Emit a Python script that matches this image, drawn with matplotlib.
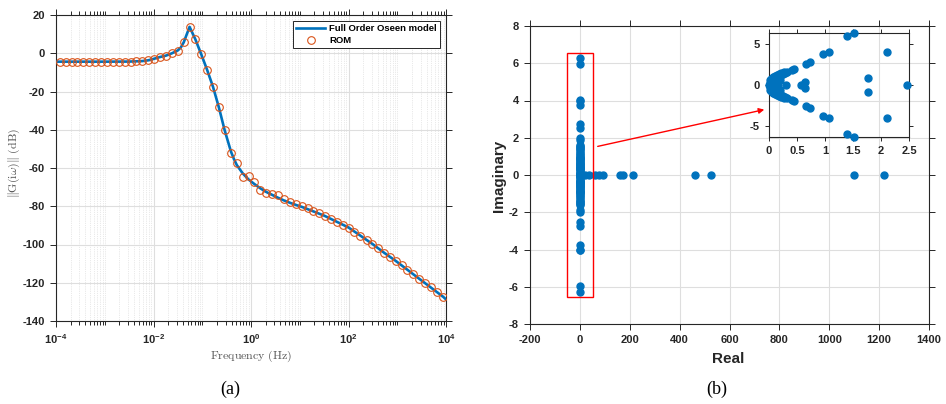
import numpy as np
import matplotlib
matplotlib.use("Agg")
import matplotlib.pyplot as plt
from matplotlib.patches import Rectangle, FancyArrowPatch
from matplotlib.ticker import FixedLocator, FixedFormatter, LogLocator, NullFormatter

# ---- (a) frequency response, log10(f) and dB
rom_exp = [-3.92, -3.80, -3.68, -3.56, -3.44, -3.32, -3.19, -3.07, -2.95, -2.83,
           -2.71, -2.59, -2.47, -2.35, -2.23, -2.11, -1.99, -1.87, -1.74, -1.62,
           -1.50, -1.38, -1.26, -1.14, -1.02, -0.90, -0.78, -0.66, -0.54, -0.41,
           -0.29, -0.17, -0.05, 0.07, 0.19, 0.31, 0.43, 0.55, 0.67, 0.79,
           0.92, 1.04, 1.16, 1.28, 1.40, 1.52, 1.64, 1.76, 1.88, 2.00,
           2.12, 2.24, 2.37, 2.49, 2.61, 2.73, 2.85, 2.97, 3.09, 3.21,
           3.33, 3.45, 3.57, 3.70, 3.82, 3.94]
rom_db = [-4.4, -4.4, -4.4, -4.4, -4.4, -4.4, -4.4, -4.4, -4.4, -4.4,
          -4.4, -4.4, -4.35, -4.25, -4.0, -3.7, -2.9, -2.0, -1.2, 0.0,
          1.3, 5.7, 13.8, 7.2, -0.6, -8.7, -17.5, -28.2, -40.3, -52.0,
          -57.2, -64.9, -64.2, -67.3, -71.5, -72.9, -73.6, -74.1, -76.0, -77.6,
          -79.0, -79.9, -80.9, -82.3, -83.7, -85.1, -86.6, -88.2, -89.6, -91.2,
          -93.3, -95.5, -97.6, -99.7, -102.0, -104.3, -106.4, -108.6, -110.9, -113.2,
          -115.6, -117.9, -120.1, -122.4, -125.0, -127.3]

full_exp = [-4.0, -3.0, -2.5, -2.23, -2.11, -1.99, -1.87, -1.74, -1.62, -1.50,
            -1.44, -1.38, -1.26, -1.14, -1.02, -0.90, -0.78, -0.66, -0.54, -0.41,
            -0.35, -0.29, -0.17, -0.05, 0.07, 0.19, 0.31, 0.43, 0.55, 0.67,
            0.79, 0.92, 1.04, 1.5, 2.0, 2.24, 2.49, 2.73, 2.97, 3.45, 3.94, 4.0]
full_db = [-4.4, -4.4, -4.35, -4.1, -3.7, -2.9, -2.0, -1.2, 0.0, 1.5,
           3.0, 5.7, 13.8, 7.2, -0.6, -8.7, -17.5, -28.2, -40.3, -51.5,
           -55.3, -58.5, -62.8, -66.0, -68.4, -70.6, -72.5, -74.0, -75.5, -76.9,
           -78.1, -79.3, -80.3, -84.9, -91.1, -95.3, -99.7, -104.3, -108.6, -117.9,
           -127.3, -128.7]

freq_ticks = [1e-4, 1e-2, 1e0, 1e2, 1e4]
freq_labels = [r'$\mathdefault{10^{-4}}$', r'$\mathdefault{10^{-2}}$', r'$\mathdefault{10^{0}}$',
               r'$\mathdefault{10^{2}}$', r'$\mathdefault{10^{4}}$']
db_ticks = [-140, -120, -100, -80, -60, -40, -20, 0, 20]

# ---- (b) eigenvalues (conjugate pairs written out)
eig_re = [1.52, 1.52, 1.39, 1.39, 2.10, 2.10, 1.07, 1.07, 0.96, 0.96,
          0.73, 0.73, 0.66, 0.66, 0.45, 0.45, 0.41, 0.41, 1.77, 1.77,
          0.65, 0.65, 0.32, 0.32, 0.28, 0.28, 0.25, 0.25, 0.22, 0.22,
          0.19, 0.19, 0.17, 0.17, 0.14, 0.14, 0.12, 0.12, 0.10, 0.10,
          0.08, 0.08, 0.06, 0.06, 0.05, 0.05, 0.03, 0.03, 0.02, 0.02,
          0.15, 0.15, 0.10, 0.10, 0.05, 0.05, 0.20, 0.20,
          0.01, 0.01, 0.01, 0.01, 0.03, 0.03, 0.06, 0.06, 0.08, 0.08,
          0.11, 0.11, 0.14, 0.14, 0.18, 0.18, 0.22, 0.22, 0.26, 0.26,
          0.04, 0.04, 0.12, 0.12, 0.18, 0.18,
          0.00, 0.04, 0.09, 0.16, 0.30, 0.57, 2.47,
          10, 22, 35, 62, 76, 92, 160, 172, 212, 462, 525, 1098, 1219]
eig_im = [6.30, -6.30, 5.95, -5.95, 4.00, -4.00, 4.02, -4.02, 3.76, -3.76,
          2.76, -2.76, 2.55, -2.55, 2.00, -2.00, 1.88, -1.88, 0.90, -0.90,
          0.40, -0.40, 1.58, -1.58, 1.45, -1.45, 1.32, -1.32, 1.18, -1.18,
          1.05, -1.05, 0.92, -0.92, 0.80, -0.80, 0.68, -0.68, 0.57, -0.57,
          0.46, -0.46, 0.36, -0.36, 0.27, -0.27, 0.18, -0.18, 0.09, -0.09,
          0.45, -0.45, 0.30, -0.30, 0.12, -0.12, 0.60, -0.60,
          0.30, -0.30, 0.55, -0.55, 0.75, -0.75, 0.62, -0.62, 0.92, -0.92,
          1.05, -1.05, 1.22, -1.22, 1.38, -1.38, 1.52, -1.52, 1.62, -1.62,
          0.45, -0.45, 0.85, -0.85, 0.95, -0.95,
          0.0, 0.0, 0.0, 0.0, 0.0, 0.0, 0.0,
          0, 0, 0, 0, 0, 0, 0, 0, 0, 0, 0, 0, 0]

real_ticks = [-200, 0, 200, 400, 600, 800, 1000, 1200, 1400]
imag_ticks = [-8, -6, -4, -2, 0, 2, 4, 6, 8]
inset_xticks = [0, 0.5, 1, 1.5, 2, 2.5]
inset_xlabels = ['0', '0.5', '1', '1.5', '2', '2.5']
inset_yticks = [-5, 0, 5]

blue = '#0072BD'
orange = '#D95319'
dark = '#262626'

plt.rcParams['font.family'] = ['Liberation Sans', 'DejaVu Sans']
plt.rcParams['font.weight'] = 'bold'
plt.rcParams['axes.unicode_minus'] = False

fig = plt.figure(figsize=(9.46, 4.04), dpi=100)


def style_axes(ax, lsize=8, tlen=4.5):
    for s in ax.spines.values():
        s.set_color(dark)
        s.set_linewidth(0.8)
    ax.tick_params(which='both', direction='out', top=True, right=True,
                   colors=dark, labelsize=lsize, width=0.7)
    ax.tick_params(which='major', length=tlen)
    ax.tick_params(which='minor', length=tlen * 0.65)


# ---------------- (a)
ax1 = fig.add_axes([56 / 946, 1 - 321 / 404, 390 / 946, 306 / 404])
ax1.set_xscale('log')
ax1.plot(10 ** np.array(full_exp), full_db, color=blue, lw=1.9,
         label='Full Order Oseen model', zorder=3)
ax1.plot(10 ** np.array(rom_exp), rom_db, 'o', mfc='none', mec=orange, ms=5.5,
         mew=0.8, label='ROM', zorder=4)
ax1.set_xlim(1e-4, 1e4)
ax1.set_ylim(-140, 20)
ax1.xaxis.set_major_locator(FixedLocator(freq_ticks))
ax1.xaxis.set_major_formatter(FixedFormatter(freq_labels))
ax1.xaxis.set_minor_locator(LogLocator(base=10, subs=np.arange(1, 10), numticks=100))
ax1.xaxis.set_minor_formatter(NullFormatter())
ax1.set_yticks(db_ticks)
ax1.set_axisbelow(True)
ax1.grid(True, which='major', color='#dedede', lw=0.8)
ax1.grid(True, which='minor', axis='x', color='#d4d4d4', lw=0.5, ls=':')
style_axes(ax1)
leg = ax1.legend(loc='upper right', fontsize=6.8, fancybox=False, framealpha=1,
                 edgecolor=dark, borderaxespad=0.6, handlelength=3.0,
                 labelspacing=0.3, borderpad=0.35, handletextpad=0.5)
leg.get_frame().set_linewidth(0.7)

fig.text(251 / 946, 1 - 356 / 404, r'$\mathrm{Frequency\ (Hz)}$', math_fontfamily='cm',
         fontsize=8.6, color='#555555', ha='center', va='center')
fig.text(14 / 946, 1 - 163 / 404, r'$\|\mathrm{G}(\mathrm{i}\omega)\|\ \mathrm{(dB)}$',
         math_fontfamily='cm', fontsize=8.6, color='#555555', ha='center', va='center',
         rotation=90)
fig.text(230 / 946, 1 - 389 / 404, '(a)', family='Liberation Serif', fontweight='normal',
         fontsize=13, ha='center', va='center')

# ---------------- (b)
ax2 = fig.add_axes([530 / 946, 1 - 324 / 404, 399 / 946, 298 / 404])
ax2.plot(eig_re, eig_im, 'o', color=blue, ms=5, ls='none', zorder=3)
ax2.set_xlim(-200, 1400)
ax2.set_ylim(-8, 8)
ax2.set_xticks(real_ticks)
ax2.set_yticks(imag_ticks)
ax2.set_axisbelow(True)
ax2.grid(True, color='#dedede', lw=0.8)
style_axes(ax2)
ax2.add_patch(Rectangle((-52, -6.57), 104, 13.14, fill=False, edgecolor='red', lw=1, zorder=4))

fig.text(728 / 946, 1 - 359 / 404, 'Real', fontsize=11, color=dark, ha='center', va='center')
fig.text(499 / 946, 1 - 176 / 404, 'Imaginary', fontsize=11, color=dark, ha='center',
         va='center', rotation=90)
fig.text(717 / 946, 1 - 389 / 404, '(b)', family='Liberation Serif', fontweight='normal',
         fontsize=13, ha='center', va='center')

# inset: same eigenvalues near the origin
ax3 = fig.add_axes([769 / 946, 1 - 137 / 404, 140 / 946, 104 / 404])
ax3.set_facecolor('none')
re = np.array(eig_re)
im = np.array(eig_im)
keep = re <= 2.5
ax3.plot(re[keep], im[keep], 'o', color=blue, ms=5, ls='none', clip_on=False, zorder=3)
ax3.set_xlim(0, 2.5)
ax3.set_ylim(-6.35, 6.35)
ax3.set_xticks(inset_xticks)
ax3.set_xticklabels(inset_xlabels)
ax3.set_yticks(inset_yticks)
style_axes(ax3, lsize=8, tlen=3)

arrow = FancyArrowPatch((595 / 946, 1 - 147 / 404), (767 / 946, 1 - 109 / 404),
                        transform=fig.transFigure, arrowstyle='-|>', mutation_scale=8,
                        color='red', lw=1)
fig.add_artist(arrow)

fig.savefig('out.png', dpi=100)
